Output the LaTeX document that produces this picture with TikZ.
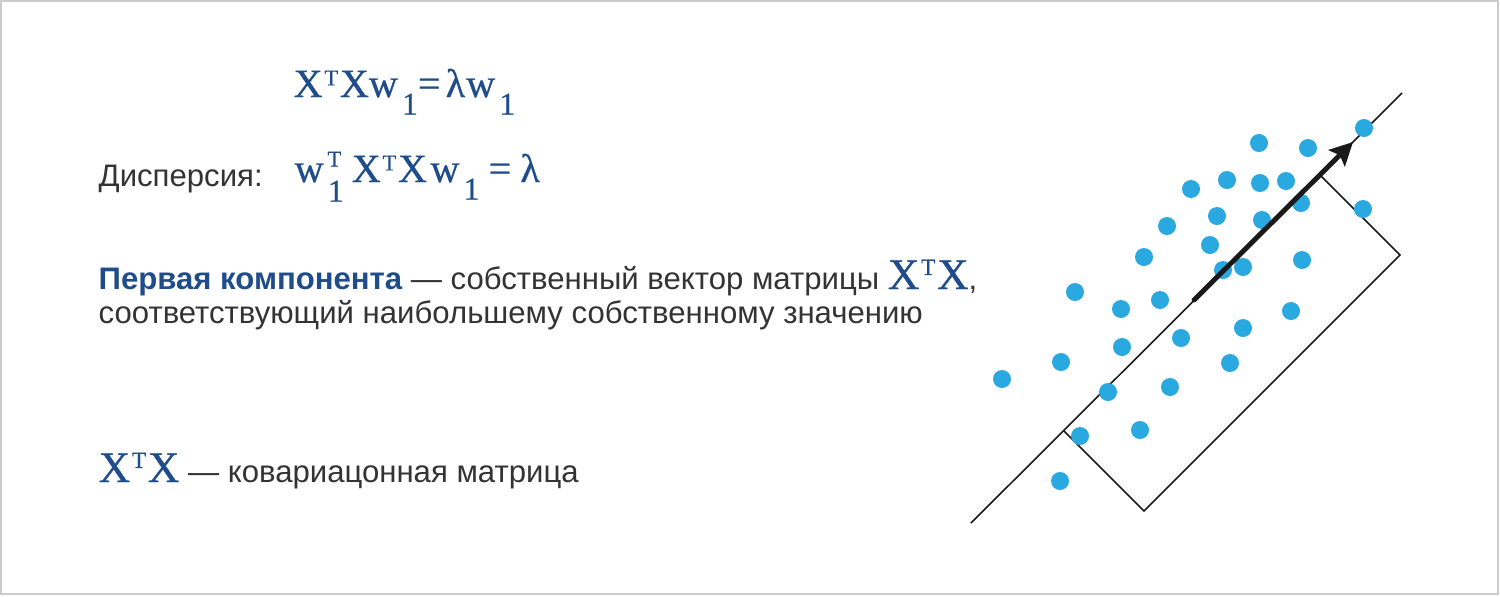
\documentclass[tikz,border=0pt]{standalone}
\usepackage{fontspec}
\setmainfont{Liberation Sans}
\newfontfamily\formfont[FakeBold=0.6]{Liberation Serif}
\usetikzlibrary{arrows.meta}

\definecolor{formblue}{HTML}{1F4C8A}
\definecolor{dotblue}{HTML}{29A9E0}
\definecolor{textgray}{HTML}{333333}
\definecolor{framegray}{HTML}{CCCCCC}

% kleine hulpmacro's voor indices
\newcommand{\tsup}{\raisebox{3.3pt}{\fontsize{6.4}{6}\selectfont T}}
\newcommand{\hightsup}{\raisebox{4.4pt}{\fontsize{6.4}{6}\selectfont T}}
\newcommand{\osub}{\hspace{1.2pt}\raisebox{-5pt}{\fontsize{9}{9}\selectfont 1}}
\newcommand{\lowosub}{\hspace{1.2pt}\raisebox{-5.6pt}{\fontsize{9}{9}\selectfont 1}}
\newcommand{\bigxtx}{X\hspace{0.5pt}\raisebox{4pt}{\fontsize{6.6}{6}\selectfont T}\hspace{0.5pt}X}

\begin{document}
\begin{tikzpicture}[x=0.01cm, y=-0.01cm,
    formula/.style={inner sep=0, anchor=base west, text=formblue, font=\formfont\fontsize{11.4}{12}\selectfont},
    bodytext/.style={inner sep=0, anchor=base west, text=textgray, font=\fontsize{8.85}{10}\selectfont},
    dot/.style={fill=dotblue},
    thinline/.style={line width=0.45pt, black!90}]
    % Rand
    \draw[framegray, line width=0.5pt] (1,1) rectangle (1498,594);
    \useasboundingbox (0,0) rectangle (1500,596);

    % Formules
    \node[formula] (formA) at (293,97) {X\hspace{0.5pt}\tsup\hspace{0.5pt}Xw\osub=\hspace{1.5pt}λ\hspace{0.3pt}w\osub};
    \node[bodytext] (disp) at (98,186) {Дисперсия:};
    \node[formula] (formB) at (294,182) {w\lowosub\hspace{-4.6pt}\hightsup\hspace{3pt}X\hspace{0.5pt}\tsup\hspace{0.5pt}X\hspace{1pt}w\osub\hspace{2.6pt}=\hspace{2.6pt}λ};

    % Tekst
    \node[bodytext] (compA) at (98,289) {\textcolor{formblue}{\bfseries Первая компонента} — собственный вектор матрицы {\formfont\color{formblue}\fontsize{12.4}{12}\selectfont\bigxtx},};
    \node[bodytext] (compB) at (98,323) {соответствующий наибольшему собственному значению};
    \node[bodytext] (covar) at (98,482) {{\formfont\color{formblue}\fontsize{12.4}{12}\selectfont\bigxtx} — ковариацонная матрица};

    % Hoofdas en rechthoek
    \coordinate (axisA) at (971,523);
    \coordinate (axisB) at (1402,93);
    \coordinate (boxA) at (1064,431);
    \coordinate (boxB) at (1144,511);
    \coordinate (boxC) at (1400,255);
    \coordinate (boxD) at (1320,175);
    \draw[thinline] (axisA) -- (axisB);
    \draw[thinline] (boxA) -- (boxB) -- (boxC) -- (boxD);

    % Punten
    \foreach \px/\py in {1259/143, 1308/148, 1364/128, 1191/189, 1227/180, 1260/183,
        1286/181, 1301/203, 1363/209, 1217/216, 1262/220, 1167/226, 1210/245,
        1144/257, 1223/270, 1243/267, 1302/260, 1075/292, 1121/309, 1160/300,
        1291/311, 1243/328, 1181/338, 1122/347, 1061/362, 1230/363, 1002/379,
        1108/392, 1170/387, 1140/430, 1080/436, 1060/481}
        \fill[dot] (\px,\py) circle[radius=0.9mm];

    % Eerste component
    \coordinate (vecA) at (1194,300);
    \coordinate (vecB) at (1353,142);
    \draw[-{Stealth[length=6.5pt, width=6.5pt, inset=1.2pt]}, line width=1.4pt, line cap=round, black!90] (vecA) -- (vecB);
\end{tikzpicture}
\end{document}
